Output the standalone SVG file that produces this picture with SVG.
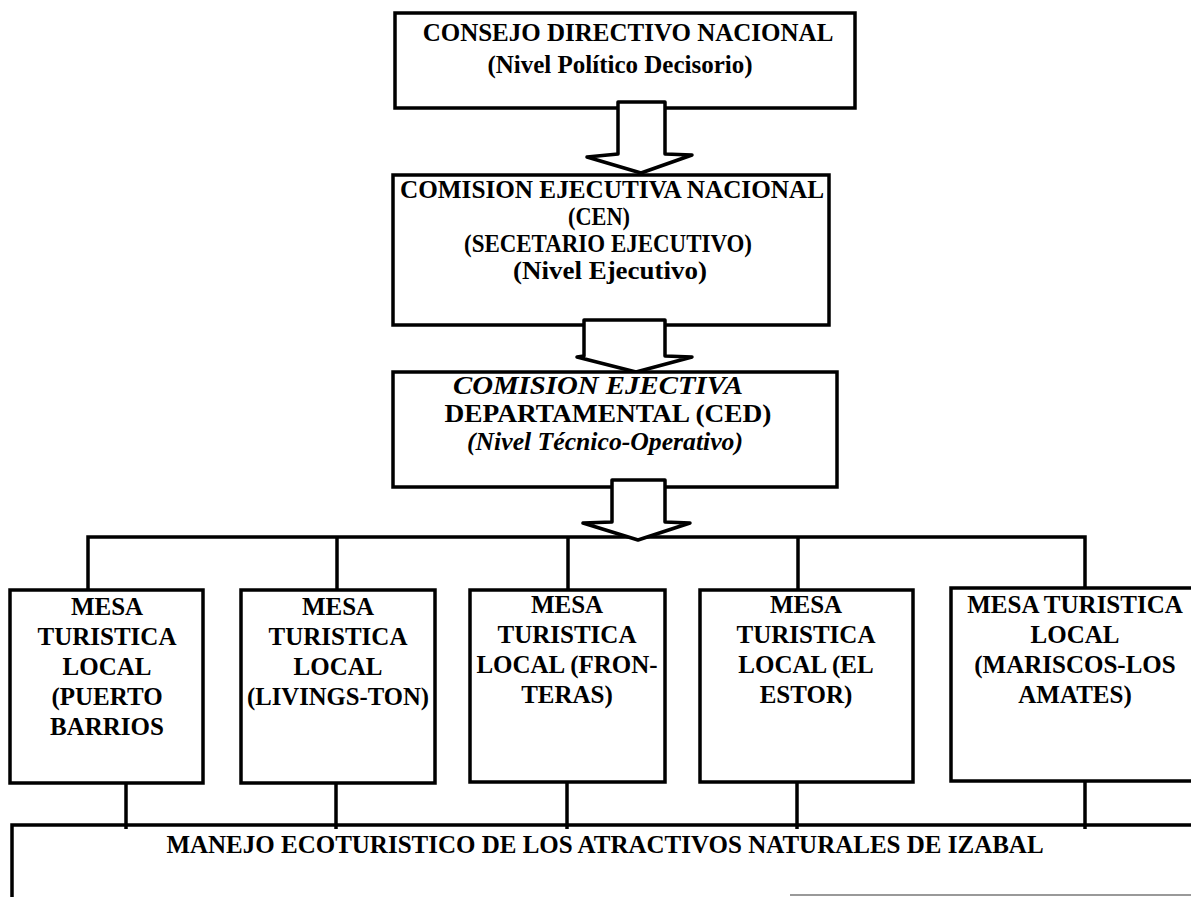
<svg xmlns="http://www.w3.org/2000/svg" width="1191" height="897" viewBox="0 0 1191 897">
<style>
.box{fill:#fff;stroke:#000;stroke-width:3.5}
.arr{fill:#fff;stroke:#000;stroke-width:3.5;stroke-linejoin:round}
.ln{fill:none;stroke:#000;stroke-width:3.5}
text{font-family:"Liberation Serif","Times New Roman",serif;font-weight:bold;font-size:25px;fill:#000;text-anchor:middle}
.it{font-style:italic}
</style>
<rect width="1191" height="897" fill="#fff"/>
<g id="connectors">
<polyline class="ln" points="88,590 88,537 1085,537 1085,588"/>
<line class="ln" x1="337" y1="537" x2="337" y2="590"/>
<line class="ln" x1="568" y1="537" x2="568" y2="590"/>
<line class="ln" x1="798" y1="537" x2="798" y2="590"/>
<line class="ln" x1="126" y1="770" x2="126" y2="829"/>
<line class="ln" x1="336" y1="770" x2="336" y2="829"/>
<line class="ln" x1="567" y1="770" x2="567" y2="829"/>
<line class="ln" x1="797" y1="770" x2="797" y2="829"/>
<line class="ln" x1="1085" y1="770" x2="1085" y2="829"/>
</g>
<g id="n1">
<rect class="box" x="395" y="13" width="460" height="95"/>
<text x="628" y="41">CONSEJO DIRECTIVO NACIONAL</text>
<text x="620" y="73">(Nivel Político Decisorio)</text>
</g>
<g id="a1"><polygon class="arr" points="618,102 665,102 665,154 692,155 641,173 587,157 618,154"/></g>
<g id="n2">
<rect class="box" x="393" y="175" width="436" height="150"/>
<text x="612" y="198" textLength="424" lengthAdjust="spacingAndGlyphs">COMISION EJECUTIVA NACIONAL</text>
<text x="599" y="225" textLength="62" lengthAdjust="spacingAndGlyphs">(CEN)</text>
<text x="608" y="252" textLength="288" lengthAdjust="spacingAndGlyphs">(SECETARIO EJECUTIVO)</text>
<text x="610" y="279" textLength="194" lengthAdjust="spacingAndGlyphs">(Nivel Ejecutivo)</text>
</g>
<g id="a2"><polygon class="arr" points="584,320 665,320 665,356 692,357 636,372 577,357 584,356"/></g>
<g id="n3">
<rect class="box" x="393" y="372" width="444" height="115"/>
<text class="it" x="598" y="394" textLength="290" lengthAdjust="spacingAndGlyphs">COMISION EJECTIVA</text>
<text x="608" y="422" textLength="327" lengthAdjust="spacingAndGlyphs">DEPARTAMENTAL (CED)</text>
<text class="it" x="605" y="450" textLength="276" lengthAdjust="spacingAndGlyphs">(Nivel Técnico-Operativo)</text>
</g>
<g id="a3"><polygon class="arr" points="612,480 665,480 665,522 690,523 638,540 583,523 612,522"/></g>
<g id="m1">
<rect class="box" x="10" y="590" width="193" height="193"/>
<text x="107" y="615">MESA</text>
<text x="107" y="645">TURISTICA</text>
<text x="107" y="675">LOCAL</text>
<text x="107" y="705">(PUERTO</text>
<text x="107" y="735">BARRIOS</text>
</g>
<g id="m2">
<rect class="box" x="241" y="590" width="194" height="193"/>
<text x="338" y="615">MESA</text>
<text x="338" y="645">TURISTICA</text>
<text x="338" y="675">LOCAL</text>
<text x="338" y="705" textLength="182" lengthAdjust="spacingAndGlyphs">(LIVINGS-TON)</text>
</g>
<g id="m3">
<rect class="box" x="470" y="590" width="195" height="192"/>
<text x="567" y="613">MESA</text>
<text x="567" y="643">TURISTICA</text>
<text x="567" y="673">LOCAL (FRON-</text>
<text x="567" y="703">TERAS)</text>
</g>
<g id="m4">
<rect class="box" x="700" y="590" width="213" height="192"/>
<text x="806" y="613">MESA</text>
<text x="806" y="643">TURISTICA</text>
<text x="806" y="673">LOCAL (EL</text>
<text x="806" y="703">ESTOR)</text>
</g>
<g id="m5">
<rect class="box" x="951" y="588" width="260" height="193"/>
<text x="1075" y="613">MESA TURISTICA</text>
<text x="1075" y="643">LOCAL</text>
<text x="1075" y="673">(MARISCOS-LOS</text>
<text x="1075" y="703">AMATES)</text>
</g>
<g id="band">
<polyline class="ln" points="12,897 12,825 1191,825"/>
<line x1="790" y1="895" x2="1191" y2="895" stroke="#999" stroke-width="2"/>
<text x="605" y="853">MANEJO ECOTURISTICO DE LOS ATRACTIVOS NATURALES DE IZABAL</text>
</g>
</svg>
